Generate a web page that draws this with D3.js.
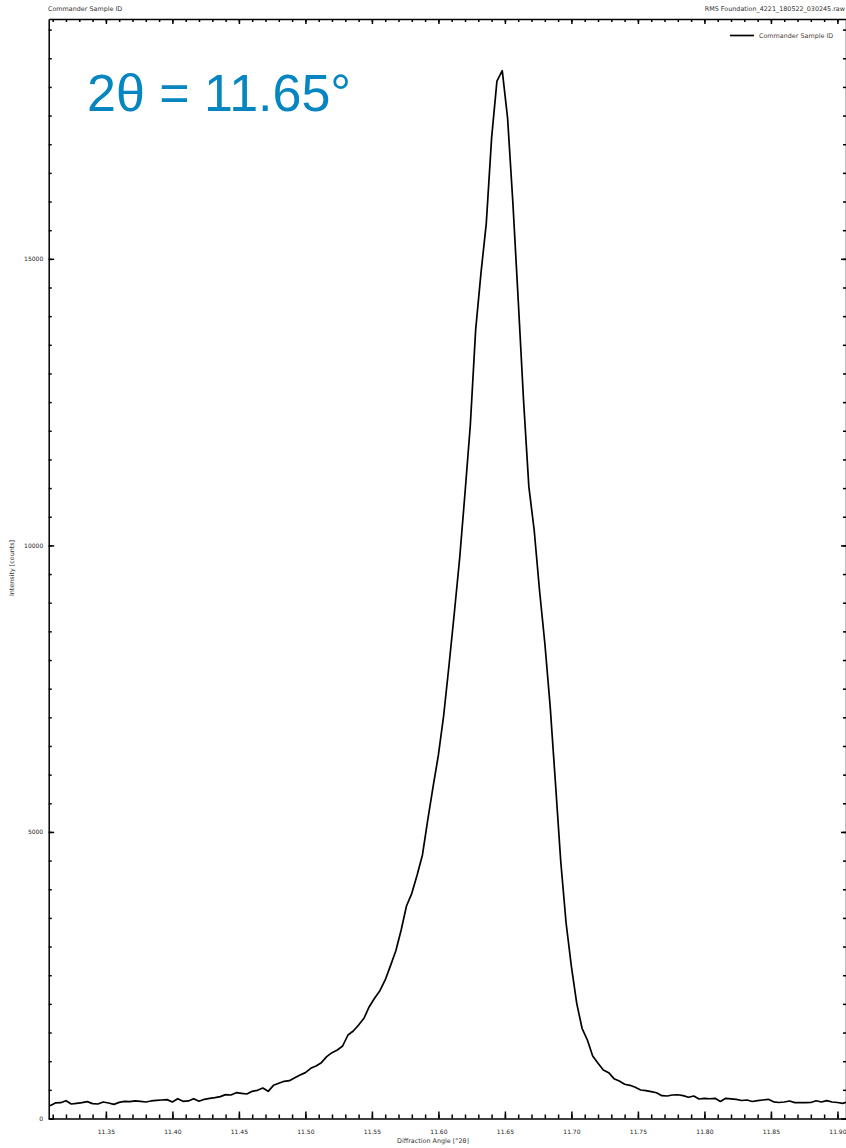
<!DOCTYPE html>
<html lang="en">
<head>
<meta charset="UTF-8">
<title>Commander Sample ID</title>
<style>
    body { margin: 0; background: #fff; }
    svg { display: block; font-family: 'DejaVu Sans', sans-serif; }
    .axis path { stroke: #000; stroke-width: 1.5; }
    .axis line { stroke: #000; stroke-width: 1.5; }
    .axis text { font-size: 6px; fill: #222; font-family: 'DejaVu Sans', sans-serif; }
    .small { font-size: 6.4px; fill: #333; }
</style>
</head>
<body>
<div id="chart"></div>
<script src="https://d3js.org/d3.v7.min.js"></script>
<script>
// scan angles (°2θ) and measured intensities (counts)
const angles = [
    11.308, 11.312, 11.316, 11.320, 11.324, 11.328, 11.332, 11.336, 11.340, 11.344,
    11.348, 11.352, 11.356, 11.360, 11.364, 11.368, 11.372, 11.376, 11.380, 11.384,
    11.388, 11.392, 11.396, 11.400, 11.404, 11.408, 11.412, 11.416, 11.420, 11.424,
    11.428, 11.432, 11.436, 11.440, 11.444, 11.448, 11.452, 11.456, 11.460, 11.464,
    11.468, 11.472, 11.476, 11.480, 11.484, 11.488, 11.492, 11.496, 11.500, 11.504,
    11.508, 11.512, 11.516, 11.520, 11.524, 11.528, 11.532, 11.536, 11.540, 11.544,
    11.548, 11.552, 11.556, 11.560, 11.564, 11.568, 11.572, 11.576, 11.580, 11.584,
    11.588, 11.592, 11.596, 11.600, 11.604, 11.608, 11.612, 11.616, 11.620, 11.624,
    11.628, 11.632, 11.636, 11.640, 11.644, 11.648, 11.652, 11.656, 11.660, 11.664,
    11.668, 11.672, 11.676, 11.680, 11.684, 11.688, 11.692, 11.696, 11.700, 11.704,
    11.708, 11.712, 11.716, 11.720, 11.724, 11.728, 11.732, 11.736, 11.740, 11.744,
    11.748, 11.752, 11.756, 11.760, 11.764, 11.768, 11.772, 11.776, 11.780, 11.784,
    11.788, 11.792, 11.796, 11.800, 11.804, 11.808, 11.812, 11.816, 11.820, 11.824,
    11.828, 11.832, 11.836, 11.840, 11.844, 11.848, 11.852, 11.856, 11.860, 11.864,
    11.868, 11.872, 11.876, 11.880, 11.884, 11.888, 11.892, 11.896, 11.900, 11.904,
    11.908
];
const counts = [
    224, 271, 276, 311, 253, 265, 276, 294, 259, 253,
    288, 271, 247, 282, 300, 294, 306, 300, 288, 306,
    317, 323, 329, 288, 346, 300, 306, 346, 300, 335,
    352, 364, 381, 416, 410, 451, 439, 428, 474, 492,
    532, 474, 579, 614, 649, 660, 713, 759, 800, 876,
    916, 974, 1079, 1149, 1195, 1265, 1457, 1527, 1632, 1748,
    1951, 2097, 2230, 2417, 2667, 2928, 3289, 3708, 3929, 4249,
    4598, 5209, 5790, 6343, 7040, 7913, 8829, 9780, 10914, 12100,
    13760, 14750, 15620, 17110, 18100, 18283, 17460, 15975, 14281, 12538,
    11025, 10269, 9222, 8297, 7200, 5854, 4481, 3411, 2649, 2010,
    1574, 1370, 1091, 963, 846, 800, 695, 654, 597, 579,
    544, 497, 485, 468, 450, 398, 393, 410, 414, 400,
    370, 393, 340, 352, 345, 352, 297, 352, 344, 335,
    314, 323, 297, 311, 323, 335, 291, 279, 288, 305,
    276, 276, 276, 279, 309, 288, 311, 288, 279, 265,
    293
];
const xMajorTicks = [11.35, 11.40, 11.45, 11.50, 11.55, 11.60, 11.65, 11.70, 11.75, 11.80, 11.85, 11.90];
const yMajorTicks = [0, 5000, 10000, 15000];
const xDomain = [11.307, 11.9072];
const yDomain = [0, 19185];

const W = 846, H = 1148;
const plotLeft = 48.7, plotRight = 847, plotTop = 19, plotBottom = 1118.5;

const svg = d3.select("#chart").append("svg")
    .attr("width", W)
    .attr("height", H);

const x = d3.scaleLinear().domain(xDomain).range([plotLeft, plotRight]);
const y = d3.scaleLinear().domain(yDomain).range([plotBottom, plotTop]);

const xMinor = d3.range(11.31, 11.905, 0.01).map(v => +v.toFixed(2));
const yMinor = d3.range(0, 19001, 500);

// minor ticks first, then major axes on top
svg.append("g").attr("class", "axis")
    .attr("transform", `translate(0,${plotBottom})`)
    .call(d3.axisBottom(x).tickValues(xMinor).tickSize(-4).tickFormat(""))
    .select(".domain").remove();
svg.append("g").attr("class", "axis")
    .attr("transform", `translate(0,${plotTop})`)
    .call(d3.axisTop(x).tickValues(xMinor).tickSize(-3).tickFormat(""))
    .select(".domain").remove();
svg.append("g").attr("class", "axis")
    .attr("transform", `translate(${plotLeft},0)`)
    .call(d3.axisLeft(y).tickValues(yMinor).tickSize(-3).tickFormat(""))
    .select(".domain").remove();
svg.append("g").attr("class", "axis")
    .attr("transform", `translate(${plotRight - 1},0)`)
    .call(d3.axisRight(y).tickValues(yMinor).tickSize(-3).tickFormat(""))
    .select(".domain").remove();

svg.append("g").attr("class", "axis")
    .attr("transform", `translate(0,${plotBottom})`)
    .call(d3.axisBottom(x).tickValues(xMajorTicks).tickSize(-7).tickSizeOuter(0)
        .tickPadding(11).tickFormat(d3.format(".2f")));
svg.append("g").attr("class", "axis")
    .attr("transform", `translate(0,${plotTop})`)
    .call(d3.axisTop(x).tickValues(xMajorTicks).tickSize(-5).tickSizeOuter(0).tickFormat(""));
svg.append("g").attr("class", "axis")
    .attr("transform", `translate(${plotLeft},0)`)
    .call(d3.axisLeft(y).tickValues(yMajorTicks).tickSize(-5.5).tickSizeOuter(0)
        .tickPadding(5.5).tickFormat(d3.format("d")));
svg.append("g").attr("class", "axis")
    .attr("transform", `translate(${plotRight - 1},0)`)
    .call(d3.axisRight(y).tickValues(yMajorTicks).tickSize(-5).tickSizeOuter(0).tickFormat(""));

// data
const line = d3.line()
    .x((d, i) => x(angles[i]))
    .y(d => y(d));
svg.append("path")
    .datum(counts)
    .attr("d", line)
    .attr("fill", "none")
    .attr("stroke", "#000")
    .attr("stroke-width", 1.7)
    .attr("stroke-linejoin", "round");

// header texts
svg.append("text").attr("class", "small")
    .attr("x", 48).attr("y", 11)
    .text("Commander Sample ID");
svg.append("text").attr("class", "small")
    .attr("x", 845).attr("y", 11)
    .attr("text-anchor", "end")
    .text("RMS Foundation_4221_180522_030245.raw");

// legend
svg.append("line")
    .attr("x1", 730).attr("x2", 754)
    .attr("y1", 35.5).attr("y2", 35.5)
    .attr("stroke", "#000").attr("stroke-width", 1.7);
svg.append("text").attr("class", "small")
    .attr("x", 759).attr("y", 38)
    .style("fill", "#4a4038")
    .text("Commander Sample ID");

// axis titles
svg.append("text").attr("class", "small")
    .attr("x", 433).attr("y", 1143)
    .attr("text-anchor", "middle")
    .text("Diffraction Angle [°2θ]");
svg.append("text").attr("class", "small")
    .attr("transform", "translate(14,568) rotate(-90)")
    .attr("text-anchor", "middle")
    .text("Intensity [counts]");

// annotation
svg.append("text")
    .attr("x", 87).attr("y", 111)
    .style("font-family", "'Liberation Sans', Arial, sans-serif")
    .style("font-size", "52px")
    .style("fill", "#0686c0")
    .text("2θ = 11.65°");
</script>
</body>
</html>
